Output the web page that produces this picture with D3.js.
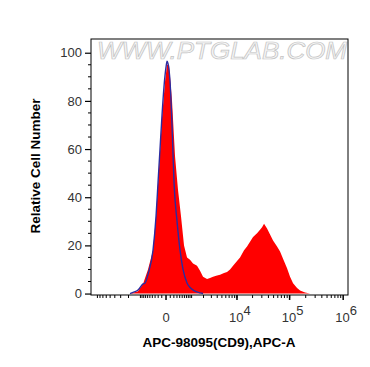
<!DOCTYPE html>
<html>
<head>
<meta charset="utf-8">
<script src="https://cdn.jsdelivr.net/npm/d3@7"></script>
<style>
  body { margin: 0; background: #fff; }
  svg { display: block; }
</style>
</head>
<body>
<div id="chart"></div>
<script>
// CD9 sample histogram (red, filled) - channel value / relative count
const sampleX = [-1844, -1560, -1163, -842, -583, -374, -268, -175, -94, -22, 22, 69, 147, 236, 337, 452, 583, 731,
  900, 1093, 1392, 1652, 1947, 2406, 2803, 3259, 3963, 4577, 5526, 6354, 7297, 8370, 10027, 11475, 13720,
  15670, 17890, 20420, 24350, 27760, 30300, 33060, 37650, 42900, 48850, 58100, 66150, 75300, 89500,
  101900, 116000, 137800, 156800, 194500, 241000];
const sampleY = [0, 0.3, 1, 4, 10, 18, 32, 52, 73, 88, 95, 95, 80, 57, 43, 32, 20, 15,
  14, 12.5, 11.5, 9.5, 7, 6, 6.5, 7, 7.5, 7.8, 8.5, 9, 10, 11.5, 13.5, 15, 18,
  19.5, 21.5, 23.5, 25, 26.5, 27.5, 29, 27, 24.5, 22, 19.5, 17.5, 14.5, 10.5,
  7, 4.3, 2.3, 1.3, 0.4, 0];

// isotype control (blue line)
const controlX = [-1844, -1560, -1163, -842, -731, -583, -374, -268, -205, -147, -94, -45, 0, 22, 45, 94, 147,
  205, 302, 412, 537, 731, 900, 1236, 1652, 1947];
const controlY = [0, 0.5, 1.5, 4, 4.4, 8, 18, 32, 46, 60, 74, 86, 94, 96.5, 95.5, 88, 70,
  46, 30, 18, 10, 4.4, 2.5, 1, 0.3, 0];

const yTicks = [0, 20, 40, 60, 80, 100];
const xMajor = [0, 1e4, 1e5, 1e6];
const xMajorLabels = [["0", ""], ["10", "4"], ["10", "5"], ["10", "6"]];

const width = 370, height = 367;
const plotL = 91, plotR = 348, plotT = 39, plotB = 295;

const svg = d3.select("#chart").append("svg")
  .attr("width", width)
  .attr("height", height)
  .style("font-family", "Liberation Sans, Arial, sans-serif");

const x = d3.scaleSymlog().constant(500).domain([-12000, 1.23e6]).range([plotL, plotR]);
const y = d3.scaleLinear().domain([-0.6, 105.7]).range([plotB, plotT]);

// watermark
svg.append("text")
  .attr("x", 97)
  .attr("y", 59)
  .attr("textLength", 250)
  .attr("lengthAdjust", "spacingAndGlyphs")
  .style("font-size", "23px")
  .style("font-style", "italic")
  .attr("fill", "#f6f6f6")
  .attr("stroke", "#c4c4c4")
  .attr("stroke-width", 0.7)
  .text("WWW.PTGLAB.COM");

// sample area
const area = d3.area()
  .x(d => x(d[0]))
  .y0(y(0))
  .y1(d => y(d[1]));

svg.append("path")
  .datum(d3.zip(sampleX, sampleY))
  .attr("d", area)
  .attr("fill", "#ff0000");

// control line
const line = d3.line()
  .x(d => x(d[0]))
  .y(d => y(d[1]))
  .curve(d3.curveMonotoneX);

svg.append("path")
  .datum(d3.zip(controlX, controlY))
  .attr("d", line)
  .attr("fill", "none")
  .attr("stroke", "#2b2ba0")
  .attr("stroke-width", 1.4);

// frame
svg.append("rect")
  .attr("x", plotL).attr("y", plotT)
  .attr("width", plotR - plotL).attr("height", plotB - plotT)
  .attr("fill", "none")
  .attr("stroke", "#000")
  .attr("stroke-width", 1);

// y axis
const yAxis = d3.axisLeft(y).tickValues(yTicks).tickSize(6).tickPadding(3);
const gy = svg.append("g").attr("transform", `translate(${plotL},0)`).call(yAxis);
gy.select(".domain").remove();
gy.selectAll("text").style("font-size", "13px").attr("fill", "#333");
gy.selectAll(".tick line").attr("stroke-width", 1.2);

const yMinor = d3.range(5, 105, 5).filter(v => v % 20 !== 0);
svg.append("g").selectAll("line")
  .data(yMinor).enter().append("line")
  .attr("x1", plotL - 3).attr("x2", plotL)
  .attr("y1", d => y(d)).attr("y2", d => y(d))
  .attr("stroke", "#000");

// x axis minor ticks
const xMinor = [];
for (let m = 1; m <= 9; m++) {
  xMinor.push(-m * 1000, -m * 100, m * 100, m * 1000, m * 1e4, m * 1e5);
}
svg.append("g").selectAll("line")
  .data(xMinor.filter(v => x(v) > plotL && x(v) < plotR)).enter().append("line")
  .attr("x1", d => x(d)).attr("x2", d => x(d))
  .attr("y1", plotB).attr("y2", plotB + 3)
  .attr("stroke", "#000");

svg.append("g").selectAll("line")
  .data(xMajor).enter().append("line")
  .attr("x1", d => x(d)).attr("x2", d => x(d))
  .attr("y1", plotB).attr("y2", plotB + 5)
  .attr("stroke", "#000")
  .attr("stroke-width", 1.5);

const xl = svg.append("g").selectAll("text")
  .data(xMajor).enter().append("text")
  .attr("x", (d, i) => x(d) + (i === 0 ? 0 : 3))
  .attr("y", 322)
  .attr("text-anchor", "middle")
  .attr("fill", "#333")
  .style("font-size", "13px");
xl.append("tspan").text((d, i) => xMajorLabels[i][0]);
xl.append("tspan").attr("dy", -7).style("font-size", "13px").text((d, i) => xMajorLabels[i][1]);

// axis titles
svg.append("text")
  .attr("x", 219).attr("y", 347)
  .attr("text-anchor", "middle")
  .style("font-size", "13.5px").style("font-weight", "bold")
  .text("APC-98095(CD9),APC-A");

svg.append("text")
  .attr("transform", "translate(40,166) rotate(-90)")
  .attr("text-anchor", "middle")
  .style("font-size", "13.5px").style("font-weight", "bold")
  .text("Relative Cell Number");
</script>
</body>
</html>
